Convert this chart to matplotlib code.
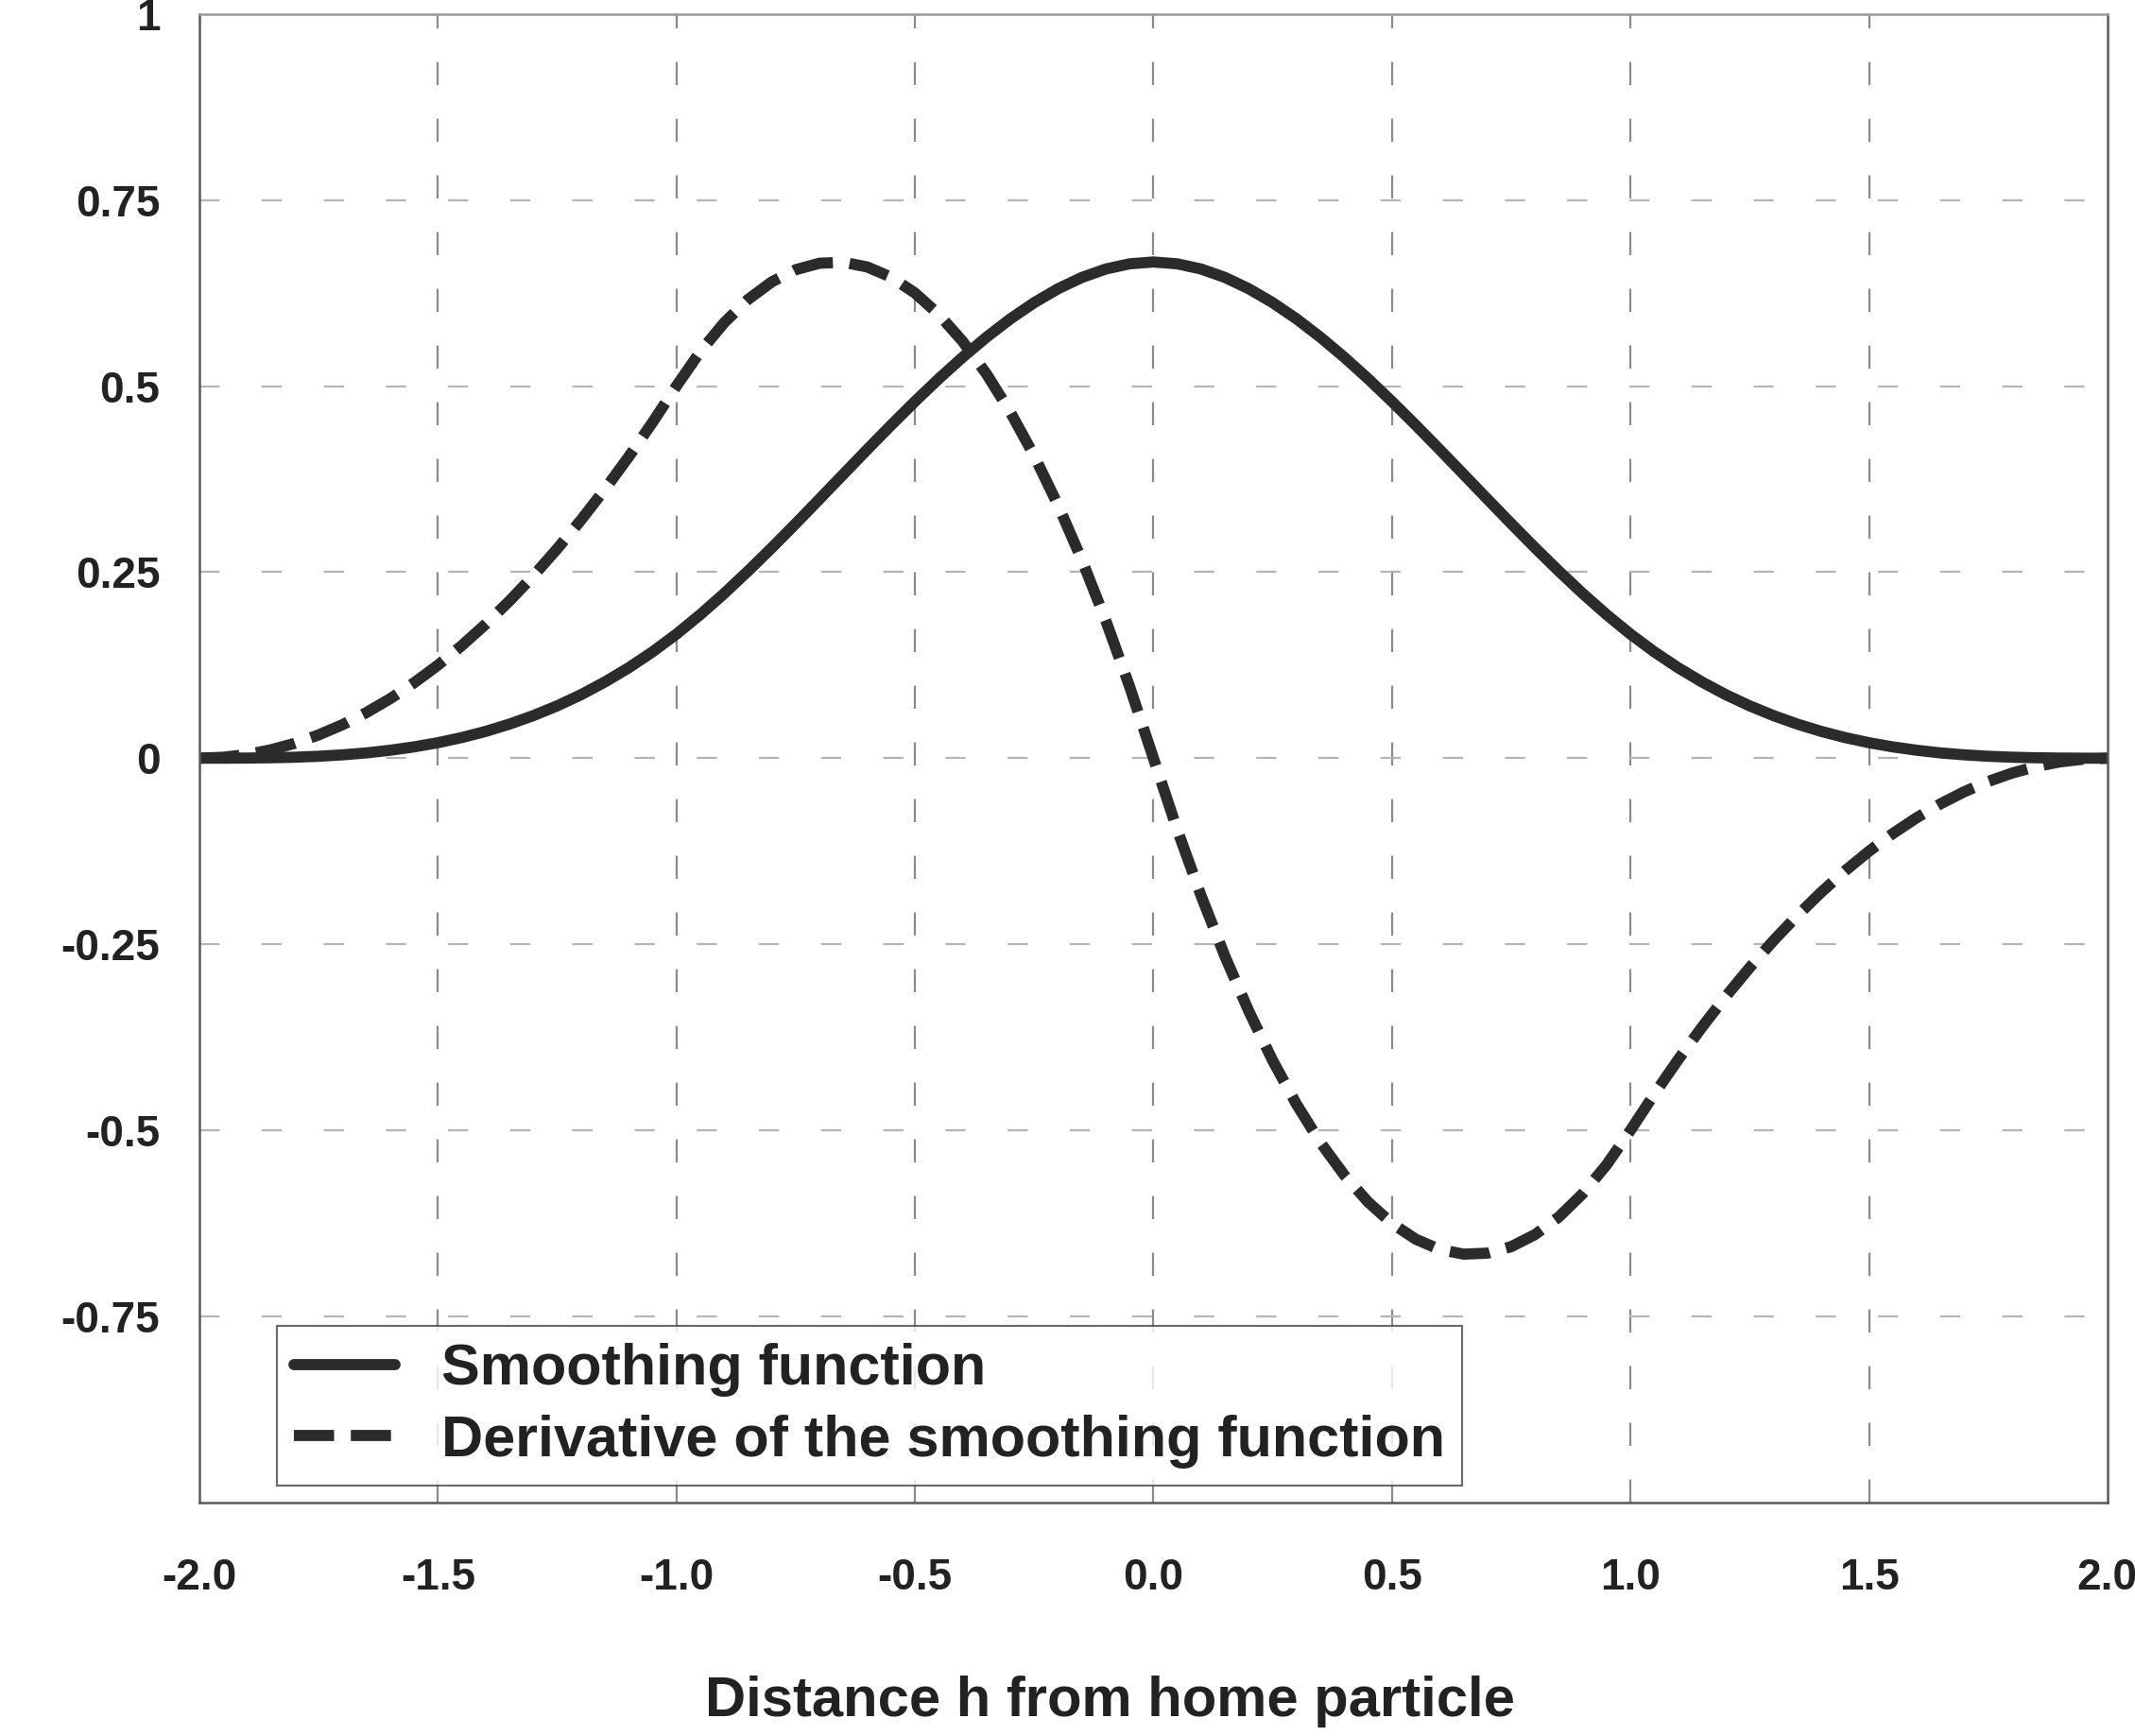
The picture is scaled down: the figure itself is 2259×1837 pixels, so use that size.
import matplotlib
matplotlib.use("Agg")
import matplotlib.pyplot as plt

# distance h, read at 0.05 steps from 0 to 2 (curve is symmetric / antisymmetric)
h_pos = [0.00, 0.05, 0.10, 0.15, 0.20, 0.25, 0.30, 0.35, 0.40, 0.45,
         0.50, 0.55, 0.60, 0.65, 0.70, 0.75, 0.80, 0.85, 0.90, 0.95,
         1.00, 1.05, 1.10, 1.15, 1.20, 1.25, 1.30, 1.35, 1.40, 1.45,
         1.50, 1.55, 1.60, 1.65, 1.70, 1.75, 1.80, 1.85, 1.90, 1.95, 2.00]

smooth_pos = [0.6667, 0.6642, 0.6572, 0.6459, 0.6307, 0.6120, 0.5902, 0.5656, 0.5387, 0.5098,
              0.4792, 0.4474, 0.4147, 0.3815, 0.3482, 0.3151, 0.2827, 0.2513, 0.2212, 0.1929,
              0.1667, 0.1429, 0.1215, 0.1024, 0.0853, 0.0703, 0.0572, 0.0458, 0.0360, 0.0277,
              0.0208, 0.0152, 0.0107, 0.0071, 0.0045, 0.0026, 0.0013, 0.0006, 0.0002, 0.0000, 0.0]

deriv_pos = [0.0, -0.0963, -0.1850, -0.2663, -0.3400, -0.4063, -0.4650, -0.5163, -0.5600, -0.5963,
             -0.6250, -0.6463, -0.6600, -0.6663, -0.6650, -0.6563, -0.6400, -0.6163, -0.5850, -0.5463,
             -0.5000, -0.4513, -0.4050, -0.3613, -0.3200, -0.2813, -0.2450, -0.2113, -0.1800, -0.1513,
             -0.1250, -0.1013, -0.0800, -0.0613, -0.0450, -0.0313, -0.0200, -0.0113, -0.0050, -0.0013, 0.0]

# mirror to the negative side
h = [-v for v in h_pos[:0:-1]] + h_pos
smooth = smooth_pos[:0:-1] + smooth_pos
deriv = [-v for v in deriv_pos[:0:-1]] + deriv_pos

x_ticks = [-2.0, -1.5, -1.0, -0.5, 0.0, 0.5, 1.0, 1.5, 2.0]
x_labels = ["-2.0", "-1.5", "-1.0", "-0.5", "0.0", "0.5", "1.0", "1.5", "2.0"]
y_ticks = [1, 0.75, 0.5, 0.25, 0, -0.25, -0.5, -0.75]
y_labels = ["1", "0.75", "0.5", "0.25", "0", "-0.25", "-0.5", "-0.75"]

plt.rcParams["font.family"] = ["Liberation Sans", "DejaVu Sans"]
plt.rcParams["font.weight"] = "bold"

fig = plt.figure(figsize=(22.59, 18.37), dpi=100)
ax = fig.add_axes([0.0934, 0.1345, 0.8937, 0.8575])

line_col = "#2b2b2b"
ax.plot(h, smooth, color=line_col, lw=8.5, solid_capstyle="round",
        label="Smoothing function")
ax.plot(h, deriv, color=line_col, lw=8.5, dashes=(3.6, 1.5), dash_capstyle="butt",
        label="Derivative of the smoothing function")

ax.set_xlim(-2, 2)
ax.set_ylim(-1, 1)

# dashed grid, drawn by hand so vertical and horizontal lines can differ
for xv in x_ticks[1:-1]:
    ax.axvline(xv, color="#8a8a8a", lw=1.6, dashes=(11, 16), zorder=0.5)
for yv in y_ticks[1:]:
    ax.axhline(yv, color="#b5b5b5", lw=1.6, dashes=(9.6, 20), zorder=0.5)

ax.set_xticks(x_ticks)
ax.set_xticklabels(x_labels)
ax.set_yticks(y_ticks)
ax.set_yticklabels(y_labels)
ax.tick_params(axis="both", length=0, labelsize=33, labelcolor="#222222")
ax.tick_params(axis="x", pad=42)
ax.tick_params(axis="y", pad=30)

for s in ax.spines.values():
    s.set_color("#5a5a5a")
    s.set_linewidth(1.8)
ax.spines["top"].set_color("#9a9a9a")

ax.set_xlabel("Distance h from home particle", fontsize=43, fontweight="bold",
              color="#222222", labelpad=58)
ax.xaxis.label.set_x(0.477)

leg = ax.legend(loc="lower left", bbox_to_anchor=(0.0406, 0.0114), borderaxespad=0,
                fontsize=44, frameon=True, fancybox=False, handlelength=1.75,
                handletextpad=0.8, borderpad=0.3, labelspacing=0.3)
leg.get_frame().set_edgecolor("#444444")
leg.get_frame().set_linewidth(1.5)
for t in leg.get_texts():
    t.set_color("#222222")

fig.savefig("out.png", dpi=100, facecolor="white")
